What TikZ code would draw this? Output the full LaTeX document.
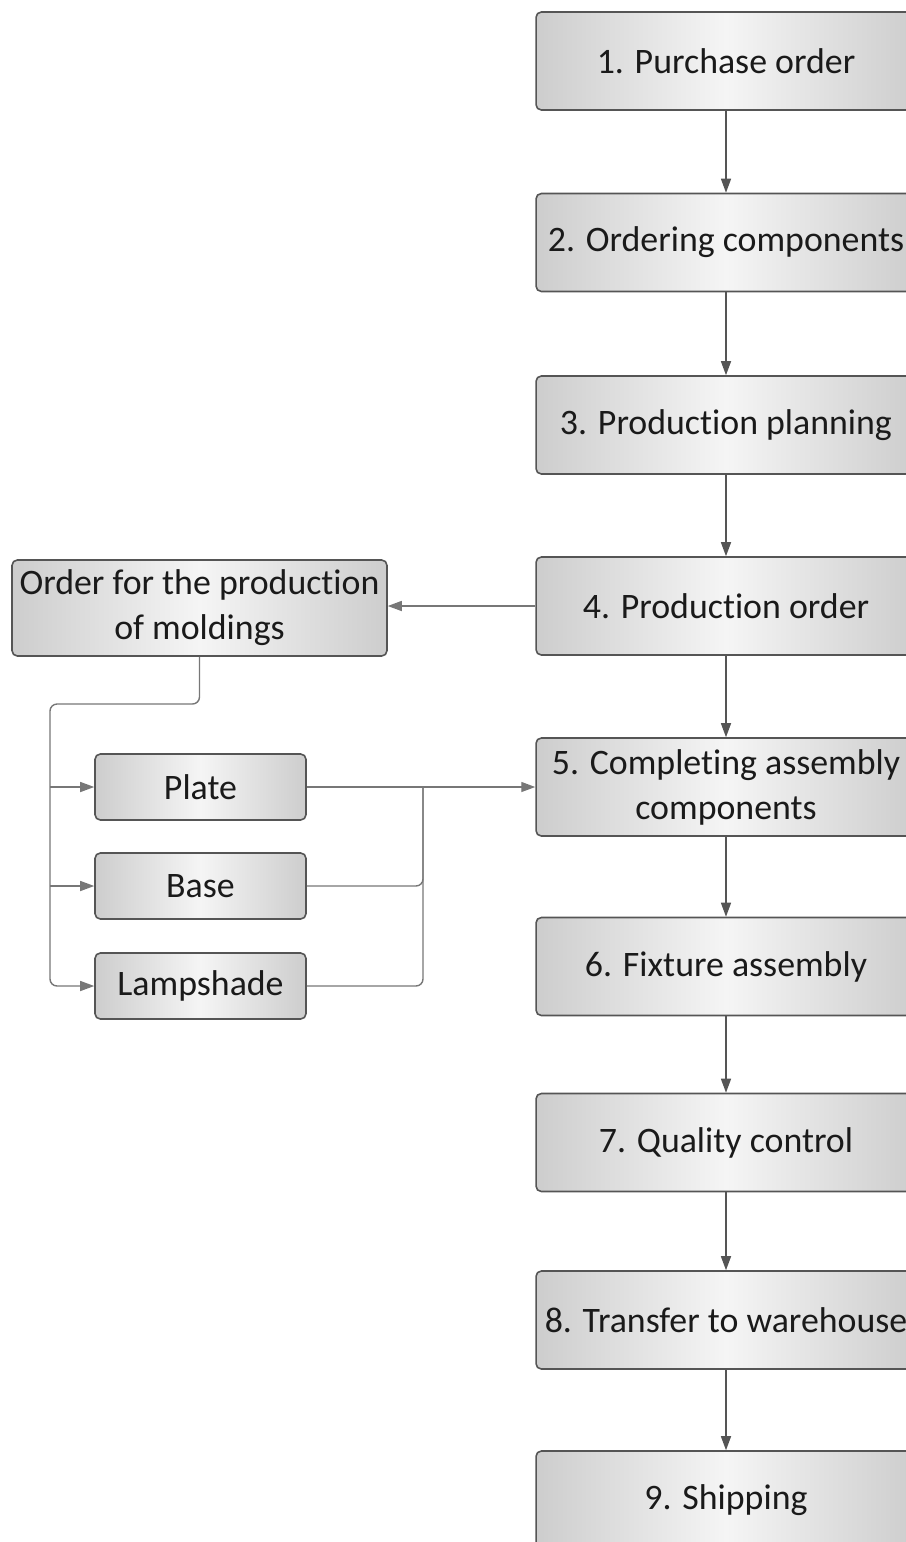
\documentclass[tikz,border=0pt]{standalone}
\usepackage{fontspec}
\setmainfont{Carlito}[Ligatures=NoCommon]
\usetikzlibrary{arrows.meta}

\definecolor{boxedge}{HTML}{555555}
\definecolor{boxside}{HTML}{CDCDCD}
\definecolor{boxmid}{HTML}{F5F5F5}
\definecolor{wire}{HTML}{777777}
\definecolor{ink}{HTML}{1A1A1A}

\begin{document}
\begin{tikzpicture}[
  x=0.02cm, y=-0.02cm,
  box/.style={rectangle, draw=boxedge, line width=0.9pt, rounded corners=3pt,
    left color=boxside, right color=boxside, middle color=boxmid,
    align=center, text=ink, font=\fontsize{20.4}{25.6}\selectfont, inner sep=1pt},
  stage/.style={box, minimum width=7.6cm, minimum height=1.96cm},
  part/.style={box, minimum width=4.22cm, minimum height=1.32cm},
  arrow/.style={-{Triangle[length=2.8mm, width=2mm]}, line width=0.8pt, draw=boxedge},
  feed/.style={-{Triangle[length=2.8mm, width=2mm]}, line width=0.8pt, draw=wire, rounded corners=4pt},
  mergeline/.style={line width=0.8pt, draw=wire, rounded corners=4pt},
]
\clip (0,0) rectangle (906,1542);
\useasboundingbox (0,0) rectangle (906,1542);

% === main production sequence ===
\node[stage] (purchase) at (726,  61)   {1. Purchase order};
\node[stage] (ordering) at (726, 242.5) {2. Ordering components};
\node[stage] (planning) at (726, 425)   {3. Production planning};
\node[stage] (prodord)  at (726, 606)   {4. Production order};
\node[stage] (complete) at (726, 787)   {5. Completing assembly\\components};
\node[stage] (fixture)  at (726, 966.5) {6. Fixture assembly};
\node[stage] (quality)  at (726, 1142.5){7. Quality control};
\node[stage] (transfer) at (726, 1320)  {8. Transfer to warehouse};
\node[stage] (shipping) at (726, 1500)  {9. Shipping};

\draw[arrow] (purchase) -- (ordering);
\draw[arrow] (ordering) -- (planning);
\draw[arrow] (planning) -- (prodord);
\draw[arrow] (prodord)  -- (complete);
\draw[arrow] (complete) -- (fixture);
\draw[arrow] (fixture)  -- (quality);
\draw[arrow] (quality)  -- (transfer);
\draw[arrow] (transfer) -- (shipping);

% === moldings branch ===
\node[box, minimum width=7.5cm, minimum height=1.92cm] (molding) at (199.5, 608)
  {Order for the production\\of moldings};
\node[part] (plate)     at (200.5, 787)  {Plate};
\node[part] (base)      at (200.5, 886)  {Base};
\node[part] (lampshade) at (200.5, 986)  {Lampshade};

\draw[feed] (prodord.west) -- (molding.east |- prodord.west);

\coordinate (split) at (50, 704);
\draw[feed] (molding.south) |- (split) |- (lampshade.west);
\draw[feed] (split |- plate.west) -- (plate.west);
\draw[feed] (split |- base.west)  -- (base.west);

\coordinate (merge) at (423, 787);
\draw[feed] (plate.east) -- (complete.west);
\draw[mergeline] (base.east) -| (merge);
\draw[mergeline] (lampshade.east) -| (merge);
\end{tikzpicture}
\end{document}
